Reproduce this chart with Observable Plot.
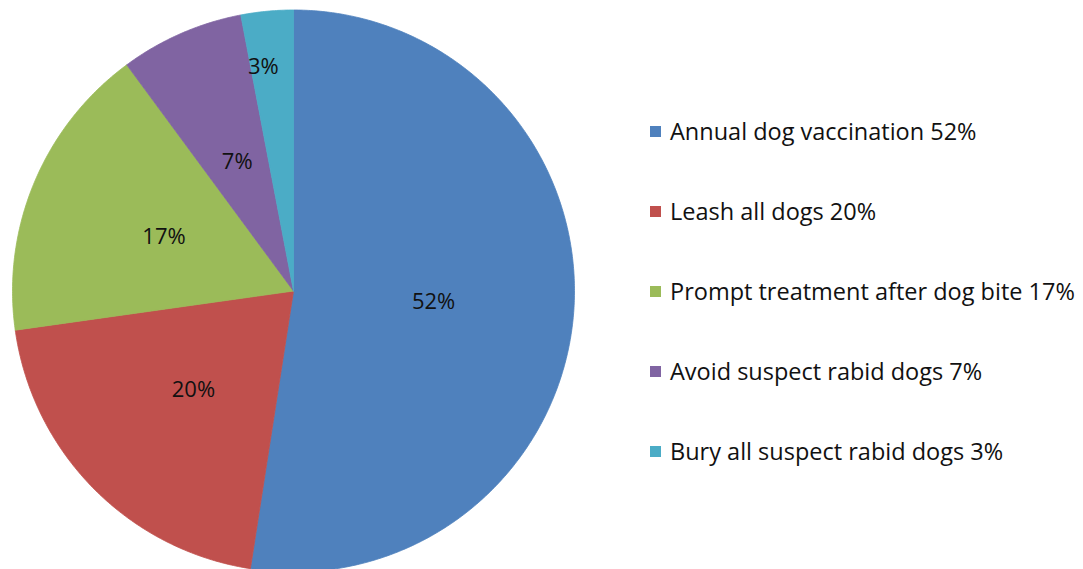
<!DOCTYPE html>
<html>
<head>
<meta charset="utf-8">
<script src="https://cdn.jsdelivr.net/npm/d3@7"></script>
<script src="https://cdn.jsdelivr.net/npm/@observablehq/plot@0.6"></script>
<style>
  html, body { margin: 0; padding: 0; background: #fff; }
  #wrap { position: relative; width: 1083px; height: 569px; overflow: hidden; font-family: "Open Sans", Lato, sans-serif; }
  #legend { position: absolute; left: 650px; top: 0; }
  .row { position: absolute; left: 0; display: flex; align-items: center; white-space: nowrap; font-size: 23.5px; color: #111; }
  .sw { width: 11px; height: 11px; margin-right: 9px; }
</style>
</head>
<body>
<div id="wrap"><div id="legend"></div></div>
<script>
// Data
const categories = ["Annual dog vaccination", "Leash all dogs", "Prompt treatment after dog bite", "Avoid suspect rabid dogs", "Bury all suspect rabid dogs"];
const values = [52.4, 20.3, 17.1, 7.1, 3.0];
const labels = ["52%", "20%", "17%", "7%", "3%"];
const colors = ["#4F81BD", "#C0504D", "#9BBB59", "#8064A2", "#4BACC6"];

// Build slice polygons (angles clockwise from 12 o'clock)
const total = d3.sum(values);
const slices = [];
const labelRows = [];
let start = 0;
values.forEach((v, i) => {
  const span = v / total * 2 * Math.PI;
  const end = start + span;
  const n = Math.max(2, Math.ceil(span / (Math.PI / 360)));
  slices.push({cat: categories[i], x: 0, y: 0});
  for (let k = 0; k <= n; k++) {
    const a = start + span * k / n;
    slices.push({cat: categories[i], x: Math.sin(a), y: Math.cos(a)});
  }
  slices.push({cat: categories[i], x: 0, y: 0});
  const mid = (start + end) / 2;
  const small = v / total < 0.05;
  const r = small ? 0.8 : 0.5;
  labelRows.push({label: labels[i], x: r * Math.sin(mid), y: r * Math.cos(mid), small});
  start = end;
});

const R = 281, cx = 293, cy = 290.5, W = 1083, H = 569;
const chart = Plot.plot({
  width: W, height: H,
  margin: 0,
  x: {domain: [-cx / R, (W - cx) / R], range: [0, W], axis: null},
  y: {domain: [-(H - cy) / R, cy / R], range: [H, 0], axis: null},
  color: {domain: categories, range: colors},
  style: {fontFamily: "'Open Sans', Lato, sans-serif", background: "white"},
  marks: [
    Plot.line(slices, {x: "x", y: "y", z: "cat", fill: "cat", stroke: "cat", strokeWidth: 0.8, curve: "linear"}),
    Plot.text(labelRows.filter(d => !d.small), {x: "x", y: "y", text: "label", fontSize: 22, fill: "#111"}),
    Plot.text(labelRows.filter(d => d.small), {x: "x", y: "y", text: "label", fontSize: 22, fill: "#111", dx: -9})
  ]
});
const wrap = document.getElementById("wrap");
wrap.insertBefore(chart, wrap.firstChild);

const legend = document.getElementById("legend");
categories.forEach((c, i) => {
  const row = document.createElement("div");
  row.className = "row";
  row.style.top = (131 + 80 * i - 15) + "px";
  row.style.height = "30px";
  const sw = document.createElement("span");
  sw.className = "sw";
  sw.style.background = colors[i];
  const t = document.createElement("span");
  t.textContent = c + " " + labels[i];
  row.appendChild(sw);
  row.appendChild(t);
  legend.appendChild(row);
});
</script>
</body>
</html>
